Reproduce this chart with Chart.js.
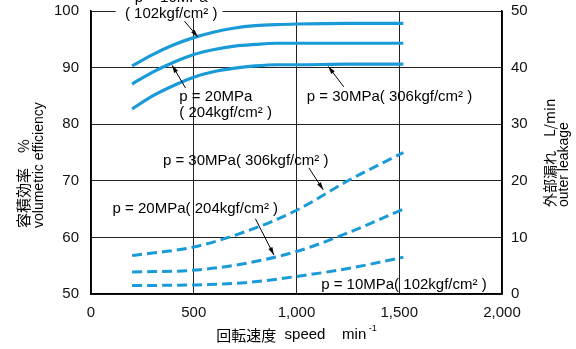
<!DOCTYPE html>
<html>
<head>
<meta charset="utf-8">
<script src="https://cdn.jsdelivr.net/npm/chart.js@4.4.1/dist/chart.umd.min.js"></script>
<style>
  html, body { margin: 0; padding: 0; background: #fff; }
  #wrap { width: 576px; height: 349px; }
</style>
</head>
<body>
<div id="wrap"><canvas id="pumpChart" width="576" height="349"></canvas></div>
<script>
// speeds (min-1) for efficiency curves
const effSpeed = [200, 300, 400, 500, 600, 700, 800, 900, 1000, 1250, 1520];
const eff10MPa = [90.3, 92.3, 94.0, 95.3, 96.3, 97.0, 97.4, 97.6, 97.7, 97.8, 97.8];
const eff20MPa = [87.1, 89.2, 90.9, 92.3, 93.2, 93.8, 94.1, 94.3, 94.3, 94.3, 94.3];
const eff30MPa = [82.7, 85.0, 86.8, 88.3, 89.3, 89.9, 90.3, 90.5, 90.5, 90.6, 90.6];

// speeds for leakage curves (L/min)
const leakSpeed = [200, 500, 750, 1000, 1250, 1520];
const leak10MPa = [1.5, 1.6, 2.0, 3.1, 4.5, 6.5];
const leak20MPa = [3.9, 4.2, 5.4, 7.5, 10.8, 15.0];
const leak30MPa = [6.8, 8.3, 11.0, 14.8, 20.0, 25.0];

const xTicks = [0, 500, 1000, 1500, 2000];
const effTicks = [50, 60, 70, 80, 90, 100];
const leakTicks = [0, 10, 20, 30, 40, 50];

const BLUE = '#1b9ad8';
const FONT = "'Liberation Sans', Arial, sans-serif";
const CJK = "'Noto Sans CJK JP', 'Liberation Sans', sans-serif";

function pts(xs, ys) {
    return xs.map((x, i) => ({ x: x, y: ys[i] }));
}

function solid(data) {
    return {
        data: data, yAxisID: 'y', borderColor: BLUE, borderWidth: 3.2,
        pointRadius: 0, cubicInterpolationMode: 'monotone', fill: false
    };
}
function dashed(data) {
    return {
        data: data, yAxisID: 'y2', borderColor: BLUE, borderWidth: 3,
        borderDash: [10, 5], pointRadius: 0, cubicInterpolationMode: 'monotone', fill: false
    };
}

// fixed box sizes so the plot area lands where the original has it
function fixWidth(w) {
    return s => { s.width = w; s.paddingTop = 0; s.paddingBottom = 0; };
}

// draws pressure labels, arrows and axis titles
const annotations = {
    id: 'annotations',
    afterDraw(chart) {
        const ctx = chart.ctx;
        const xs = chart.scales.x, ys = chart.scales.y;
        const px = v => xs.getPixelForValue(v);
        const py = v => ys.getPixelForValue(v);

        ctx.save();
        ctx.fillStyle = '#000';
        ctx.strokeStyle = '#000';

        function arrow(x1, y1, x2, y2) {
            ctx.lineWidth = 1;
            ctx.beginPath();
            ctx.moveTo(x1, y1);
            ctx.lineTo(x2, y2);
            ctx.stroke();
            const a = Math.atan2(y2 - y1, x2 - x1);
            ctx.beginPath();
            ctx.moveTo(x2, y2);
            ctx.lineTo(x2 - 8 * Math.cos(a - 0.28), y2 - 8 * Math.sin(a - 0.28));
            ctx.lineTo(x2 - 8 * Math.cos(a + 0.28), y2 - 8 * Math.sin(a + 0.28));
            ctx.closePath();
            ctx.fill();
        }
        function text(str, x, y, align) {
            ctx.textAlign = align || 'left';
            ctx.textBaseline = 'middle';
            ctx.fillText(str, x, y);
        }

        ctx.font = '15px ' + FONT;

        // top label, over the frame
        ctx.fillStyle = '#fff';
        ctx.fillRect(px(120), 4, px(640) - px(120), 14);
        ctx.fillStyle = '#000';
        text('p = 10MPa', px(390), -2, 'center');
        text('( 102kgf/cm² )', px(390), 14, 'center');
        arrow(px(455), py(98.2), px(520), py(95.4));

        text('p = 20MPa', px(430), py(84.8));
        text('( 204kgf/cm² )', px(430), py(82.0));
        arrow(px(460), py(86.4), px(395), py(90.4));

        text('p = 30MPa( 306kgf/cm² )', px(1050), py(84.8));
        arrow(px(1230), py(86.6), px(1155), py(90.2));

        text('p = 30MPa( 306kgf/cm² )', px(350), py(73.5));
        arrow(px(1060), py(72.3), px(1130), py(68.4));

        text('p = 20MPa( 204kgf/cm² )', px(105), py(65.0));
        arrow(px(800), py(63.3), px(890), py(56.9));

        text('p = 10MPa( 102kgf/cm² )', px(1120), py(51.7));

        // axis titles
        const area = chart.chartArea;
        ctx.font = '15px ' + CJK;
        ctx.save();
        ctx.translate(23, 228);
        ctx.rotate(-Math.PI / 2);
        text('容積効率　%', 0, 0, 'left');
        ctx.restore();
        ctx.font = '14px ' + FONT;
        ctx.save();
        ctx.translate(39, 228);
        ctx.rotate(-Math.PI / 2);
        text('volumetric efficiency', 0, 0, 'left');
        ctx.restore();

        ctx.font = '14px ' + CJK;
        ctx.save();
        ctx.translate(550, 207);
        ctx.rotate(-Math.PI / 2);
        text('外部漏れ　L/min', 0, 0, 'left');
        ctx.restore();
        ctx.font = '14px ' + FONT;
        ctx.save();
        ctx.translate(564, 207);
        ctx.rotate(-Math.PI / 2);
        text('outer leakage', 0, 0, 'left');
        ctx.restore();

        // x title
        ctx.font = '15px ' + CJK;
        const t1 = '回転速度', t2 = '  speed    min';
        const w1 = ctx.measureText(t1).width;
        ctx.font = '15px ' + FONT;
        const w2 = ctx.measureText(t2).width;
        ctx.font = '9px ' + FONT;
        const w3 = ctx.measureText(' -1').width;
        let x0 = (area.left + area.right) / 2 - (w1 + w2 + w3) / 2;
        ctx.font = '15px ' + CJK;
        text(t1, x0, 335);
        ctx.font = '15px ' + FONT;
        text(t2, x0 + w1, 335);
        ctx.font = '9px ' + FONT;
        text(' -1', x0 + w1 + w2, 329);

        ctx.restore();
    }
};

new Chart(document.getElementById('pumpChart').getContext('2d'), {
    type: 'line',
    data: {
        datasets: [
            solid(pts(effSpeed, eff10MPa)),
            solid(pts(effSpeed, eff20MPa)),
            solid(pts(effSpeed, eff30MPa)),
            dashed(pts(leakSpeed, leak30MPa)),
            dashed(pts(leakSpeed, leak20MPa)),
            dashed(pts(leakSpeed, leak10MPa))
        ]
    },
    options: {
        responsive: false,
        animation: false,
        layout: { padding: { top: 11, left: 0, right: 0, bottom: 0 } },
        plugins: { legend: { display: false }, tooltip: { enabled: false } },
        scales: {
            x: {
                type: 'linear', min: 0, max: 2000,
                afterBuildTicks: s => { s.ticks = xTicks.map(v => ({ value: v })); },
                afterFit: s => { s.height = 55; s.paddingLeft = 0; s.paddingRight = 0; },
                grid: { color: '#222', lineWidth: 1, drawTicks: false },
                border: { color: '#000', width: 1.5 },
                ticks: {
                    color: '#111', padding: 10, maxRotation: 0,
                    font: { family: FONT, size: 15 },
                    callback: v => v.toLocaleString('en-US')
                }
            },
            y: {
                position: 'left', min: 50, max: 100,
                afterBuildTicks: s => { s.ticks = effTicks.map(v => ({ value: v })); },
                afterFit: fixWidth(91),
                grid: { color: '#222', lineWidth: 1, drawTicks: false },
                border: { color: '#000', width: 1.5 },
                ticks: { color: '#111', padding: 12, font: { family: FONT, size: 15 } }
            },
            y2: {
                position: 'right', min: 0, max: 50,
                afterBuildTicks: s => { s.ticks = leakTicks.map(v => ({ value: v })); },
                afterFit: fixWidth(74),
                grid: { display: false, drawTicks: false },
                border: { color: '#000', width: 1.5 },
                ticks: { color: '#111', padding: 9, font: { family: FONT, size: 15 } }
            }
        }
    },
    plugins: [annotations]
});
</script>
</body>
</html>
